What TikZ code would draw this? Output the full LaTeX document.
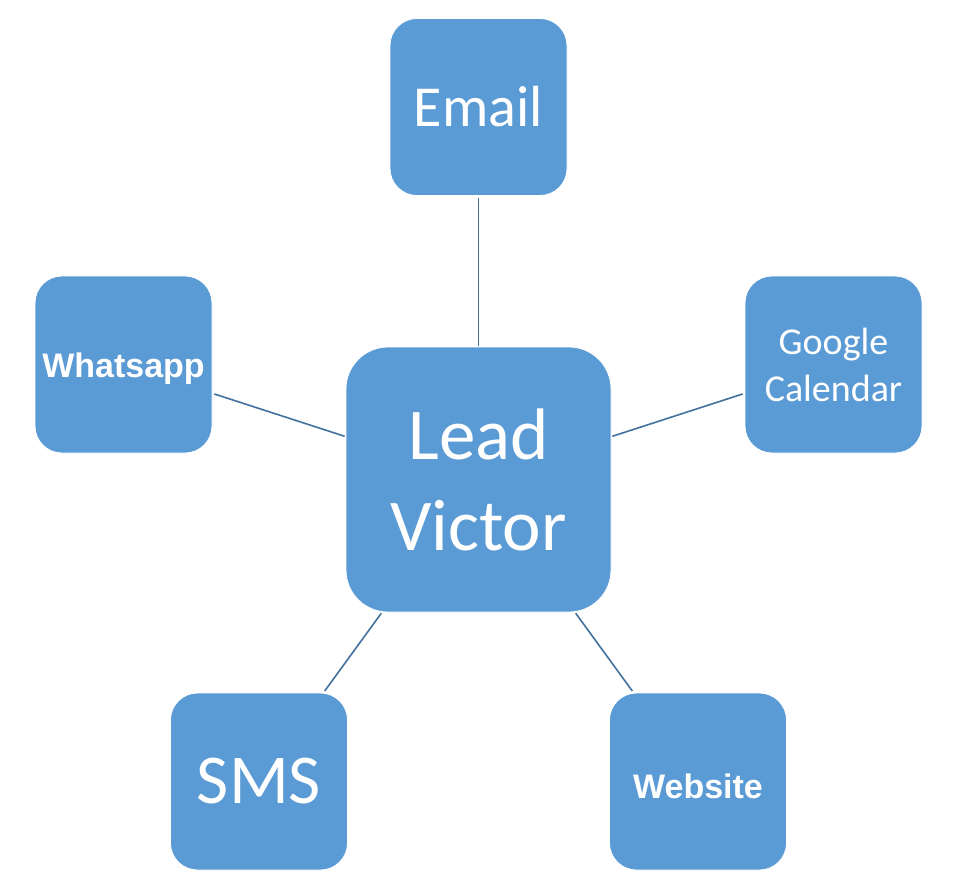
\documentclass[tikz,border=0pt]{standalone}
\usepackage{fontspec}
\setmainfont{Carlito}
\newfontfamily\arialfont{Liberation Sans}
\definecolor{boxblue}{HTML}{5B9BD5}
\definecolor{lineblue}{HTML}{41719C}
\tikzset{
  box/.style={rectangle, rounded corners=27pt, fill=boxblue, draw=white, line width=0.8pt,
    minimum width=177pt, minimum height=177pt, text=white, align=center, inner sep=0pt},
  bigbox/.style={box, rounded corners=42pt, minimum width=265pt, minimum height=265pt},
  boldlabel/.style={font=\arialfont\bfseries\fontsize{34}{40}\selectfont},
  link/.style={draw=lineblue, line width=1.6pt, shorten <=2pt, shorten >=1pt},
}
\begin{document}
\begin{tikzpicture}[x=1pt,y=-1pt]
\useasboundingbox (0,0) rectangle (979,889);
\node[bigbox, font=\fontsize{73}{91}\selectfont] (lead) at (478.5,479.5) {Lead\\Victor};
\node[box, font=\fontsize{58}{70}\selectfont] (email) at (478.5,107) {Email};
\node[box, boldlabel] (whats) at (123.5,364.5) {\raisebox{-12.5pt}[0pt][0pt]{Whatsapp}};
\node[box, font=\fontsize{38}{47}\selectfont] (google) at (833.5,364.5) {Google\\Calendar};
\node[box, font=\fontsize{70}{80}\selectfont] (sms) at (259,781.5) {SMS};
\node[box, boldlabel] (web) at (698,781.5) {\raisebox{-16.5pt}[0pt][0pt]{Website}};
\draw[link] (email) -- (lead);
\draw[link] (whats) -- (lead);
\draw[link] (google) -- (lead);
\draw[link] (sms) -- (lead);
\draw[link] (web) -- (lead);
\end{tikzpicture}
\end{document}
